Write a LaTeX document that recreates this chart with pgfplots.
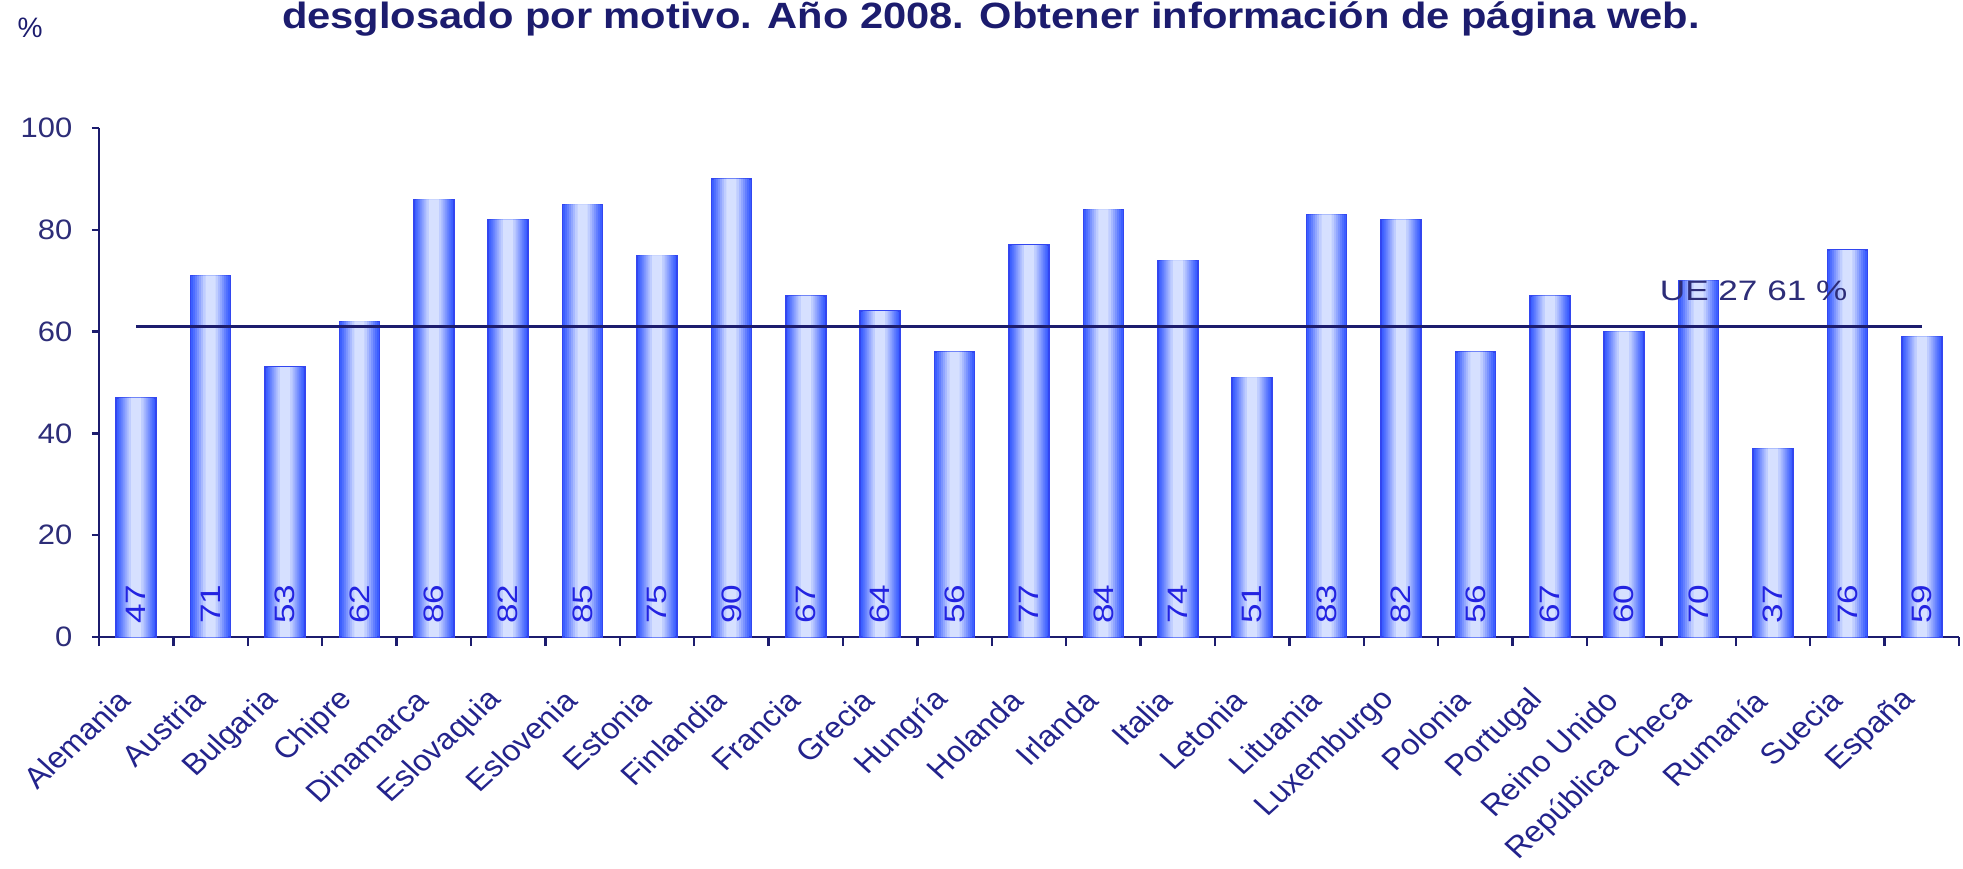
\documentclass[border=0pt]{standalone}
\usepackage{fontspec}
\setmainfont{Liberation Sans}
\usepackage{pgfplots}
\usepackage{pgfplotstable}
\pgfplotsset{compat=1.18}

\definecolor{navy}{RGB}{28,28,110}
\definecolor{tickcol}{RGB}{45,45,120}
\definecolor{labcol}{RGB}{35,35,140}
\definecolor{valcol}{RGB}{35,35,225}
\definecolor{barLine}{RGB}{50,70,240}
\definecolor{barEdge}{RGB}{60,95,255}
\definecolor{barMid}{RGB}{214,224,255}

% share of users, by country
\pgfplotstableread{
x y
0 47
1 71
2 53
3 62
4 86
5 82
6 85
7 75
8 90
9 67
10 64
11 56
12 77
13 84
14 74
15 51
16 83
17 82
18 56
19 67
20 60
21 70
22 37
23 76
24 59
}\data

\pgfplotsset{layer/.style={ybar, draw=none, fill=#1}}

\begin{document}
\begin{tikzpicture}
\useasboundingbox (0,0) rectangle (196.3mm,86.8mm);
\node[anchor=base, font=\fontsize{10.4}{12}\selectfont\bfseries, text=navy, xscale=1.14]
  at (99.1mm,84.0mm) {desglosado por motivo. Año 2008. Obtener información de página web.};
\node[font=\fontsize{8}{9}\selectfont, text=navy] at (3.0mm,84.0mm) {\%};
\begin{axis}[
  at={(9.9mm,23.1mm)}, anchor=south west,
  scale only axis, width=186.0mm, height=50.9mm,
  xmin=-0.5, xmax=24.5, ymin=0, ymax=100,
  axis x line*=bottom, axis y line*=left,
  axis line style={-, navy, line width=0.28mm},
  /pgf/number format/assume math mode=true,
  tick align=outside,
  ytick={0,20,...,100},
  major tick length=0.7mm,
  tick style={navy, line width=0.25mm},
  xtick={0,...,24},
  major x tick style={draw=none},
  minor xtick={-0.5,0.5,...,24.5},
  minor tick length=0.9mm,
  minor x tick style={navy, line width=0.25mm},
  yticklabel style={font=\fontsize{8}{9}\selectfont, text=tickcol, xshift=-0.6mm, xscale=1.1},
  xticklabels={Alemania,Austria,Bulgaria,Chipre,Dinamarca,Eslovaquia,Eslovenia,Estonia,Finlandia,Francia,Grecia,Hungría,Holanda,Irlanda,Italia,Letonia,Lituania,Luxemburgo,Polonia,Portugal,Reino Unido,República Checa,Rumanía,Suecia,España},
  xticklabel style={font=\fontsize{8.4}{10}\selectfont, text=labcol, xshift=-0.2mm, yshift=-4.3mm, xscale=1.1, rotate=45, anchor=east},
  clip=false,
]
% bars: stacked layers of narrowing width give the cylinder shading
\addplot[ybar, bar width=4.0mm, draw=barLine, line width=0.15mm, fill=barEdge] table[x=x, y=y] {\data};
\addplot[layer=barMid!12!barEdge, bar width=3.5mm] table[x=x, y=y] {\data};
\addplot[layer=barMid!25!barEdge, bar width=3.1mm] table[x=x, y=y] {\data};
\addplot[layer=barMid!40!barEdge, bar width=2.7mm] table[x=x, y=y] {\data};
\addplot[layer=barMid!55!barEdge, bar width=2.3mm] table[x=x, y=y] {\data};
\addplot[layer=barMid!70!barEdge, bar width=1.9mm] table[x=x, y=y] {\data};
\addplot[layer=barMid!85!barEdge, bar width=1.5mm] table[x=x, y=y] {\data};
\addplot[layer=barMid, bar width=1.0mm] table[x=x, y=y] {\data};
\addplot[draw=none, mark=none, nodes near coords, point meta=explicit,
  every node near coord/.append style={anchor=center, font=\fontsize{10}{11}\selectfont, text=valcol, xscale=0.8, rotate=90}]
  table[x=x, y expr=6.4, meta=y] {\data};
\addplot[navy, line width=0.3mm] coordinates {(0,61) (24,61)};
\node[font=\fontsize{8}{9}\selectfont, text=tickcol, xscale=1.25] at (axis cs:21.74,68) {UE 27 61 \%};
\end{axis}
\end{tikzpicture}
\end{document}
